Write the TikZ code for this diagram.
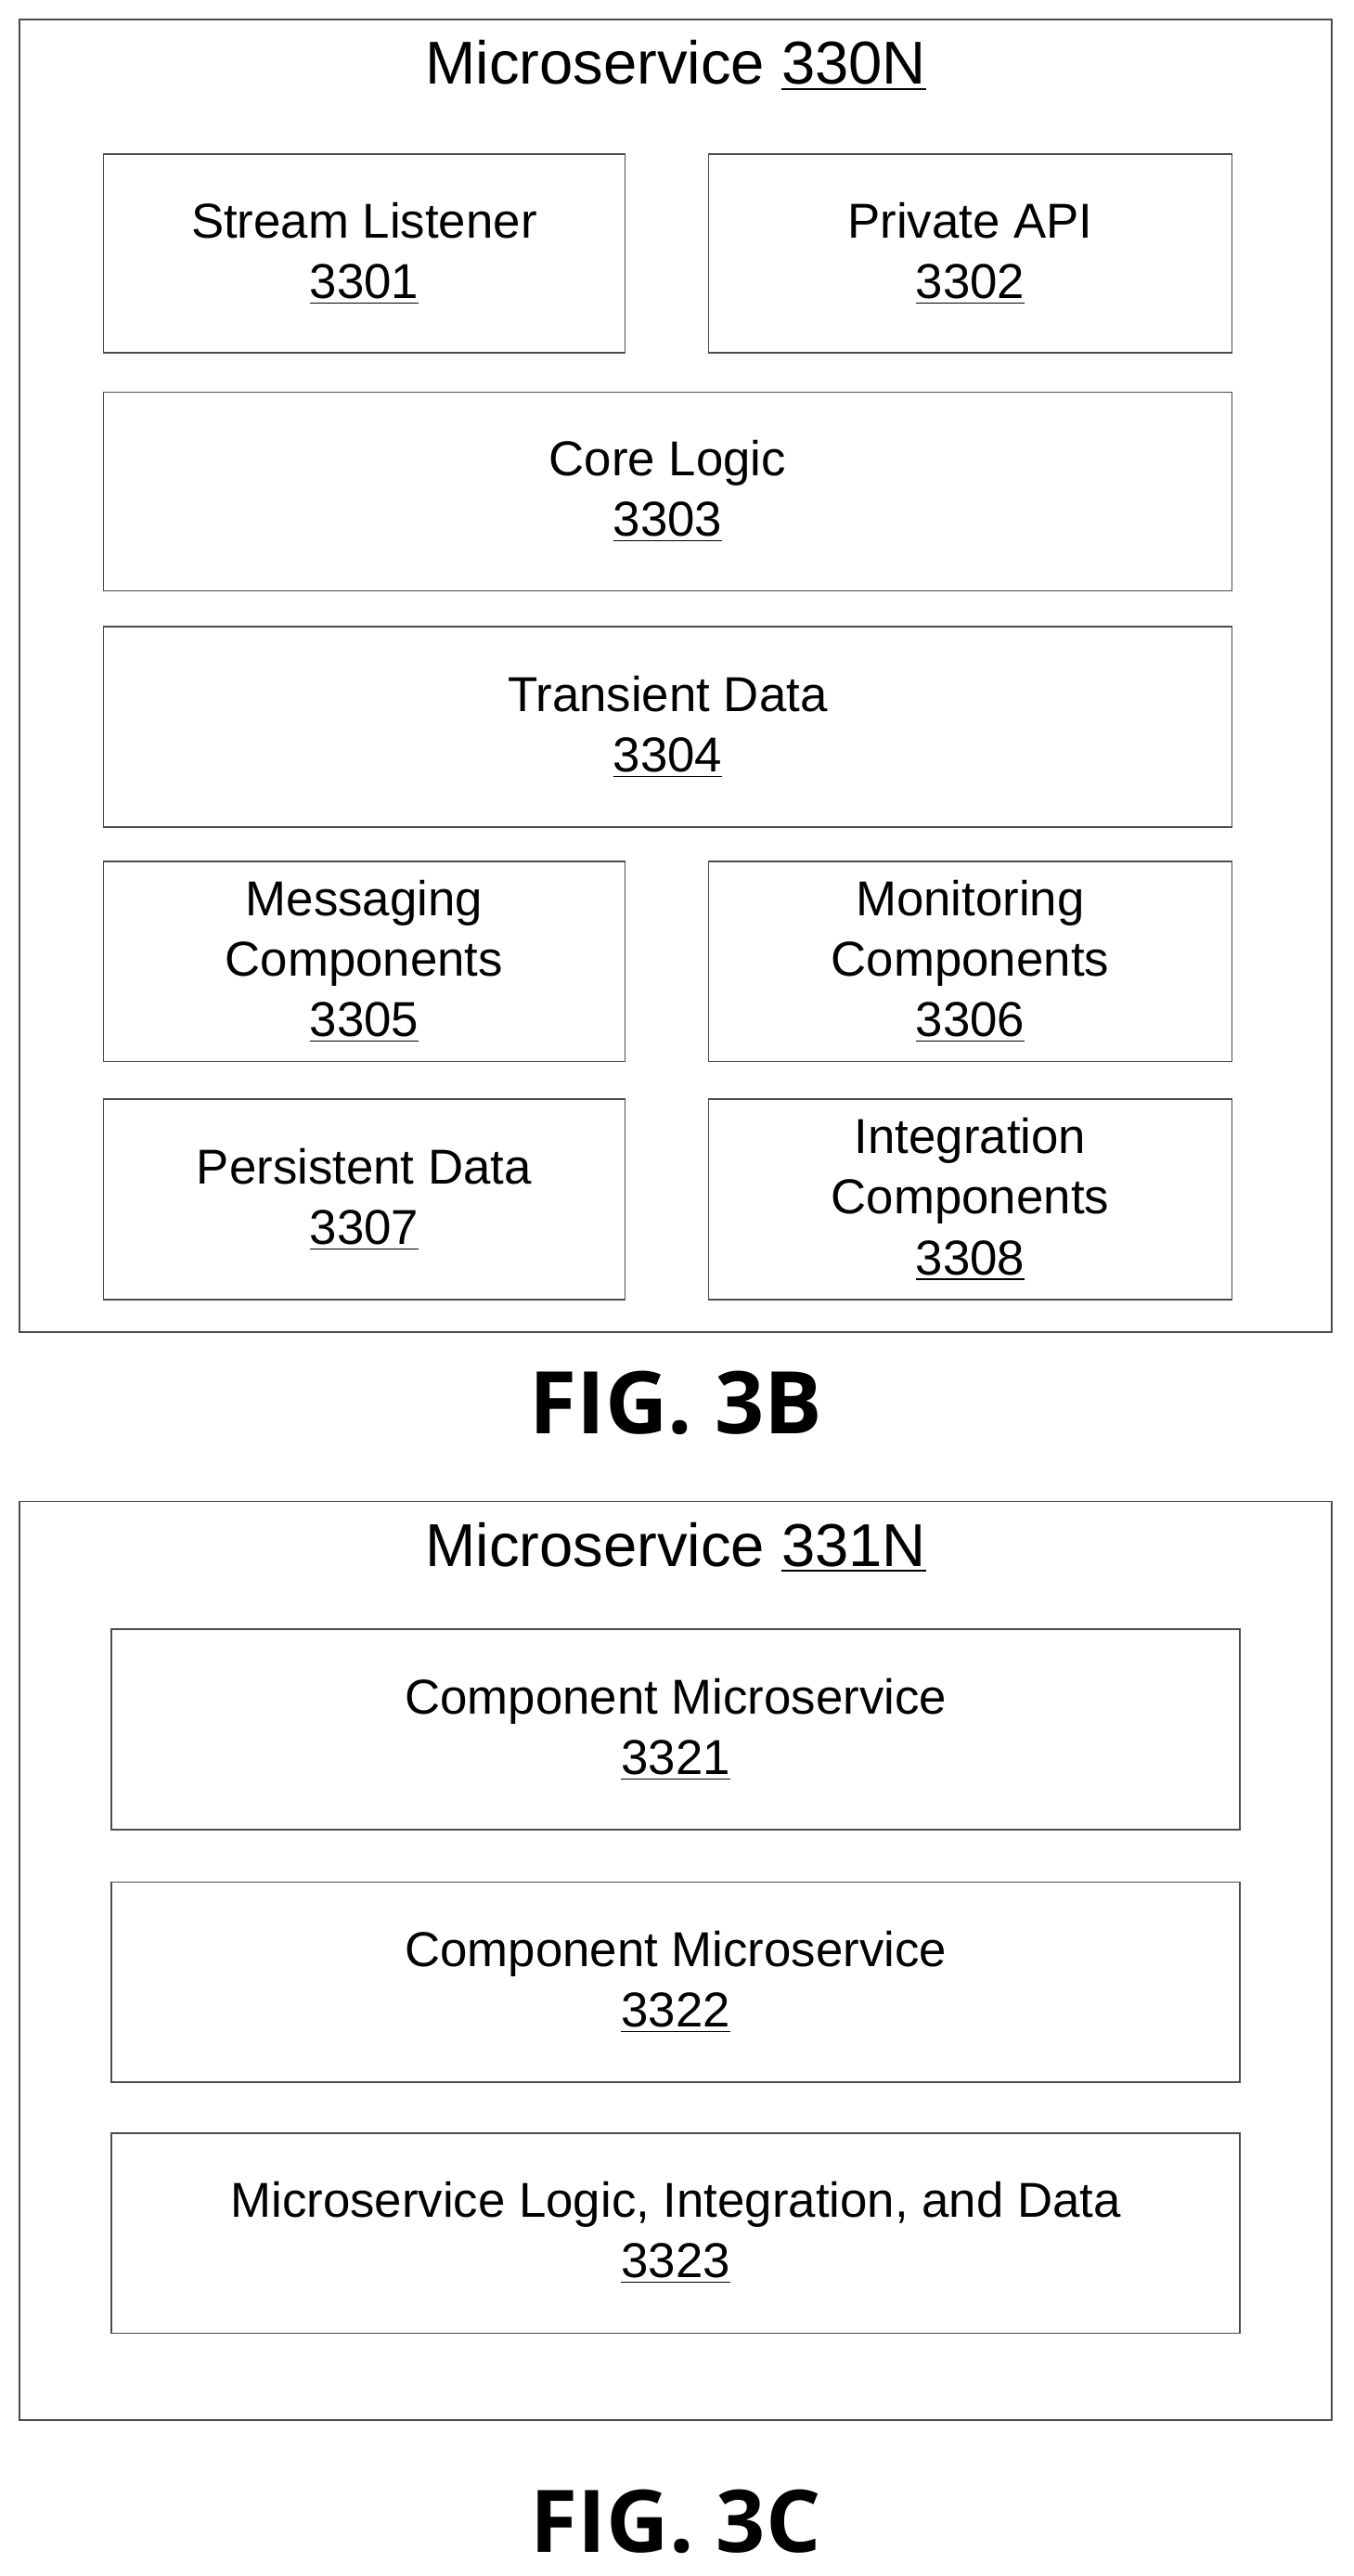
\documentclass[tikz,border=0pt]{standalone}
\usepackage{fontspec}
\setmainfont{Liberation Sans}
\newfontfamily\figfont{Open Sans}
\begin{document}
\begin{tikzpicture}[x=0.02cm, y=-0.02cm,
  part/.style={draw=black!70, line width=0.5pt, align=center, font=\fontsize{17}{21}\selectfont, inner sep=0pt},
  frame/.style={draw=black!70, line width=0.5pt},
  figlabel/.style={font=\figfont\bfseries\fontsize{30}{34}\selectfont}]
\useasboundingbox (0,0) rectangle (825,1570);

% FIG. 3B
\draw[frame] (12,12) rectangle (812,812);
\node[font=\fontsize{21}{25}\selectfont] (title330) at (412,40) {Microservice \underline{330N}};

\node[part, minimum width=318*0.02cm, minimum height=121*0.02cm] (listener) at (222,154.5) {Stream Listener\\\underline{3301}};
\node[part, minimum width=319*0.02cm, minimum height=121*0.02cm] (privapi) at (591.5,154.5) {Private API\\\underline{3302}};
\node[part, minimum width=688*0.02cm, minimum height=121*0.02cm] (corelogic) at (407,299.5) {Core Logic\\\underline{3303}};
\node[part, minimum width=688*0.02cm, minimum height=122*0.02cm] (transient) at (407,443) {Transient Data\\\underline{3304}};
\node[part, minimum width=318*0.02cm, minimum height=122*0.02cm] (messaging) at (222,586) {Messaging\\Components\\\underline{3305}};
\node[part, minimum width=319*0.02cm, minimum height=122*0.02cm] (monitoring) at (591.5,586) {Monitoring\\Components\\\underline{3306}};
\node[part, minimum width=318*0.02cm, minimum height=122*0.02cm] (persistent) at (222,731) {Persistent Data\\\underline{3307}};
\node[part, minimum width=319*0.02cm, minimum height=122*0.02cm] (integration) at (591.5,731) {Integration\\Components\\\underline{3308}};

\node[figlabel] (fig3b) at (412,855) {FIG. 3B};

% FIG. 3C
\draw[frame] (12,915) rectangle (812,1475);
\node[font=\fontsize{21}{25}\selectfont] (title331) at (412,943) {Microservice \underline{331N}};

\node[part, minimum width=688*0.02cm, minimum height=122*0.02cm] (comp1) at (412,1054) {Component Microservice\\\underline{3321}};
\node[part, minimum width=688*0.02cm, minimum height=122*0.02cm] (comp2) at (412,1208) {Component Microservice\\\underline{3322}};
\node[part, minimum width=688*0.02cm, minimum height=122*0.02cm] (logic) at (412,1361) {Microservice Logic, Integration, and Data\\\underline{3323}};

\node[figlabel] (fig3c) at (412,1537) {FIG. 3C};
\end{tikzpicture}
\end{document}
